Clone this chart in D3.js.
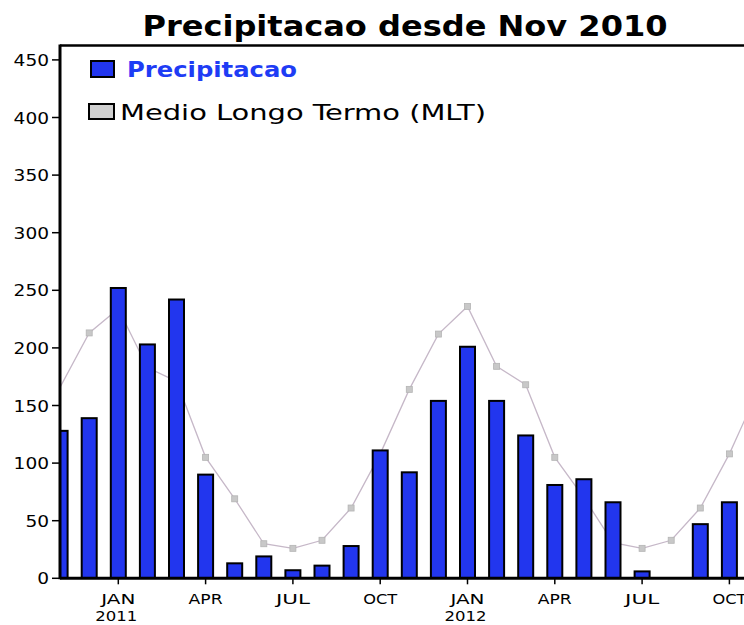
<!doctype html>
<html>
  <head>
    <title>Precipitacao desde Nov 2010</title>
    <script src="https://d3js.org/d3.v7.min.js"></script>
    <style>
        body {
            margin: 0;
            padding: 0;
            background: #fff;
        }
        text {
            font-family: "DejaVu Sans Condensed", "DejaVu Sans", Arial, sans-serif;
        }
    </style>
  </head>
  <body>
    <div id="chart"></div>
    <script>

        /*
        Data: Nov 2010 .. Oct 2012 (mm)
        */
        var months = ["Nov 2010", "Dec 2010", "Jan 2011", "Feb 2011", "Mar 2011", "Apr 2011",
            "May 2011", "Jun 2011", "Jul 2011", "Aug 2011", "Sep 2011", "Oct 2011",
            "Nov 2011", "Dec 2011", "Jan 2012", "Feb 2012", "Mar 2012", "Apr 2012",
            "May 2012", "Jun 2012", "Jul 2012", "Aug 2012", "Sep 2012", "Oct 2012", "Nov 2012"];
        var precip = [128, 139, 252, 203, 242, 90, 13, 19, 7, 11, 28, 111,
            92, 154, 201, 154, 124, 81, 86, 66, 6, null, 47, 66, null];
        var mlt = [166, 213, 234, 183, 171, 105, 69, 30, 26, 33, 61, 108,
            164, 212, 236, 184, 168, 105, 70, 31, 26, 33, 61, 108, 164];
        var yTicks = [0, 50, 100, 150, 200, 250, 300, 350, 400, 450];
        var xTickMonths = ["Jan 2011", "Apr 2011", "Jul 2011", "Oct 2011",
            "Jan 2012", "Apr 2012", "Jul 2012", "Oct 2012"];
        var xTickLabels = ["JAN", "APR", "JUL", "OCT", "JAN", "APR", "JUL", "OCT"];
        var xTickYears = ["2011", "", "", "", "2012", "", "", ""];

        var width = 744;
        var height = 625;
        var plotLeft = 60;
        var plotRight = 748;
        var plotTop = 45.5;
        var plotBottom = 578.3;

        var svg = d3.select("#chart")
            .append("svg")
            .attr("width", width)
            .attr("height", height);

        // one step per month, Nov 2010 sits on the left axis
        var x = d3.scaleLinear()
            .domain([0, 23])
            .range([60.1, 729.4]);

        var y = d3.scaleLinear()
            .domain([0, 450])
            .range([plotBottom, 59.9]);

        svg.append("clipPath")
            .attr("id", "plotClip")
            .append("rect")
            .attr("x", plotLeft)
            .attr("y", plotTop)
            .attr("width", plotRight - plotLeft)
            .attr("height", plotBottom - plotTop);

        var plot = svg.append("g")
            .attr("clip-path", "url(#plotClip)");

        // long term mean (behind the bars)
        plot.append("path")
            .datum(mlt.map((v, i) => [i, v]))
            .attr("fill", "none")
            .attr("stroke", "#c6b8c8")
            .attr("stroke-width", 1.3)
            .attr("d", d3.line()
                .x((d) => x(d[0]))
                .y((d) => y(d[1]))
            );

        plot.selectAll("rect.mlt")
            .data(mlt.map((v, i) => [i, v]).slice(1))
            .enter()
            .append("rect")
            .attr("class", "mlt")
            .attr("x", (d) => x(d[0]) - 3)
            .attr("y", (d) => y(d[1]) - 3)
            .attr("width", 6)
            .attr("height", 6)
            .style("fill", "#c8c8c8")
            .style("stroke", "#b4b4b4")
            .style("stroke-width", 0.8);

        // bars
        var barWidth = 15;
        plot.selectAll("rect.bar")
            .data(precip.map((v, i) => [i, v]).filter((d) => d[1] !== null))
            .enter()
            .append("rect")
            .attr("class", "bar")
            .attr("x", (d) => x(d[0]) - barWidth / 2)
            .attr("y", (d) => y(d[1]))
            .attr("width", barWidth)
            .attr("height", (d) => y(0) - y(d[1]))
            .style("fill", "#2236ee")
            .style("stroke", "#000")
            .style("stroke-width", 2);

        // frame: left axis, bottom axis, top border
        svg.append("line")
            .attr("x1", plotLeft).attr("x2", plotRight)
            .attr("y1", plotTop).attr("y2", plotTop)
            .attr("stroke", "#000").attr("stroke-width", 2.5);
        svg.append("line")
            .attr("x1", plotLeft).attr("x2", plotLeft)
            .attr("y1", plotTop - 1).attr("y2", plotBottom + 1)
            .attr("stroke", "#000").attr("stroke-width", 3);
        svg.append("line")
            .attr("x1", plotLeft).attr("x2", plotRight)
            .attr("y1", plotBottom).attr("y2", plotBottom)
            .attr("stroke", "#000").attr("stroke-width", 3);

        // y ticks
        var yAxis = svg.append("g");
        yAxis.selectAll("line")
            .data(yTicks)
            .enter()
            .append("line")
            .attr("x1", 52).attr("x2", plotLeft)
            .attr("y1", (d) => y(d)).attr("y2", (d) => y(d))
            .attr("stroke", "#000").attr("stroke-width", 1.5);
        yAxis.selectAll("text")
            .data(yTicks)
            .enter()
            .append("text")
            .attr("x", 49)
            .attr("y", (d) => y(d) + 6)
            .attr("text-anchor", "end")
            .attr("font-size", 16)
            .attr("textLength", (d) => String(d).length * 11.8)
            .attr("lengthAdjust", "spacingAndGlyphs")
            .text((d) => d);

        // x ticks
        var xAxis = svg.append("g");
        xAxis.selectAll("line")
            .data(xTickMonths)
            .enter()
            .append("line")
            .attr("x1", (d) => x(months.indexOf(d))).attr("x2", (d) => x(months.indexOf(d)))
            .attr("y1", plotBottom).attr("y2", plotBottom + 6)
            .attr("stroke", "#000").attr("stroke-width", 1.5);
        xAxis.selectAll("text.mon")
            .data(xTickMonths)
            .enter()
            .append("text")
            .attr("class", "mon")
            .attr("x", (d) => x(months.indexOf(d)))
            .attr("y", 604)
            .attr("text-anchor", "middle")
            .attr("font-size", 14)
            .attr("textLength", 34)
            .attr("lengthAdjust", "spacingAndGlyphs")
            .text((d, i) => xTickLabels[i]);
        xAxis.selectAll("text.yr")
            .data(xTickMonths.filter((d, i) => xTickYears[i] !== ""))
            .enter()
            .append("text")
            .attr("class", "yr")
            .attr("x", (d) => x(months.indexOf(d)) - 2)
            .attr("y", 621)
            .attr("text-anchor", "middle")
            .attr("font-size", 14)
            .attr("textLength", 42)
            .attr("lengthAdjust", "spacingAndGlyphs")
            .text((d) => xTickYears[xTickMonths.indexOf(d)]);

        // title
        svg.append("text")
            .attr("x", 405)
            .attr("y", 36)
            .attr("text-anchor", "middle")
            .attr("font-size", 28)
            .attr("font-weight", "bold")
            .attr("textLength", 525)
            .attr("lengthAdjust", "spacingAndGlyphs")
            .text("Precipitacao desde Nov 2010");

        // legend
        var legend = svg.append("g");
        legend.append("rect")
            .attr("x", 91).attr("y", 61)
            .attr("width", 23).attr("height", 16)
            .style("fill", "#2236ee").style("stroke", "#000").style("stroke-width", 2);
        legend.append("text")
            .attr("x", 127).attr("y", 77)
            .attr("font-size", 21)
            .attr("font-weight", "bold")
            .attr("fill", "#1e3cf5")
            .attr("textLength", 170)
            .attr("lengthAdjust", "spacingAndGlyphs")
            .text("Precipitacao");
        legend.append("rect")
            .attr("x", 89).attr("y", 104)
            .attr("width", 25).attr("height", 15)
            .style("fill", "#d0d0d0").style("stroke", "#000").style("stroke-width", 2);
        legend.append("text")
            .attr("x", 120).attr("y", 120)
            .attr("font-size", 21)
            .attr("fill", "#000")
            .attr("textLength", 366)
            .attr("lengthAdjust", "spacingAndGlyphs")
            .text("Medio Longo Termo (MLT)");

    </script>
  </body>
</html>
